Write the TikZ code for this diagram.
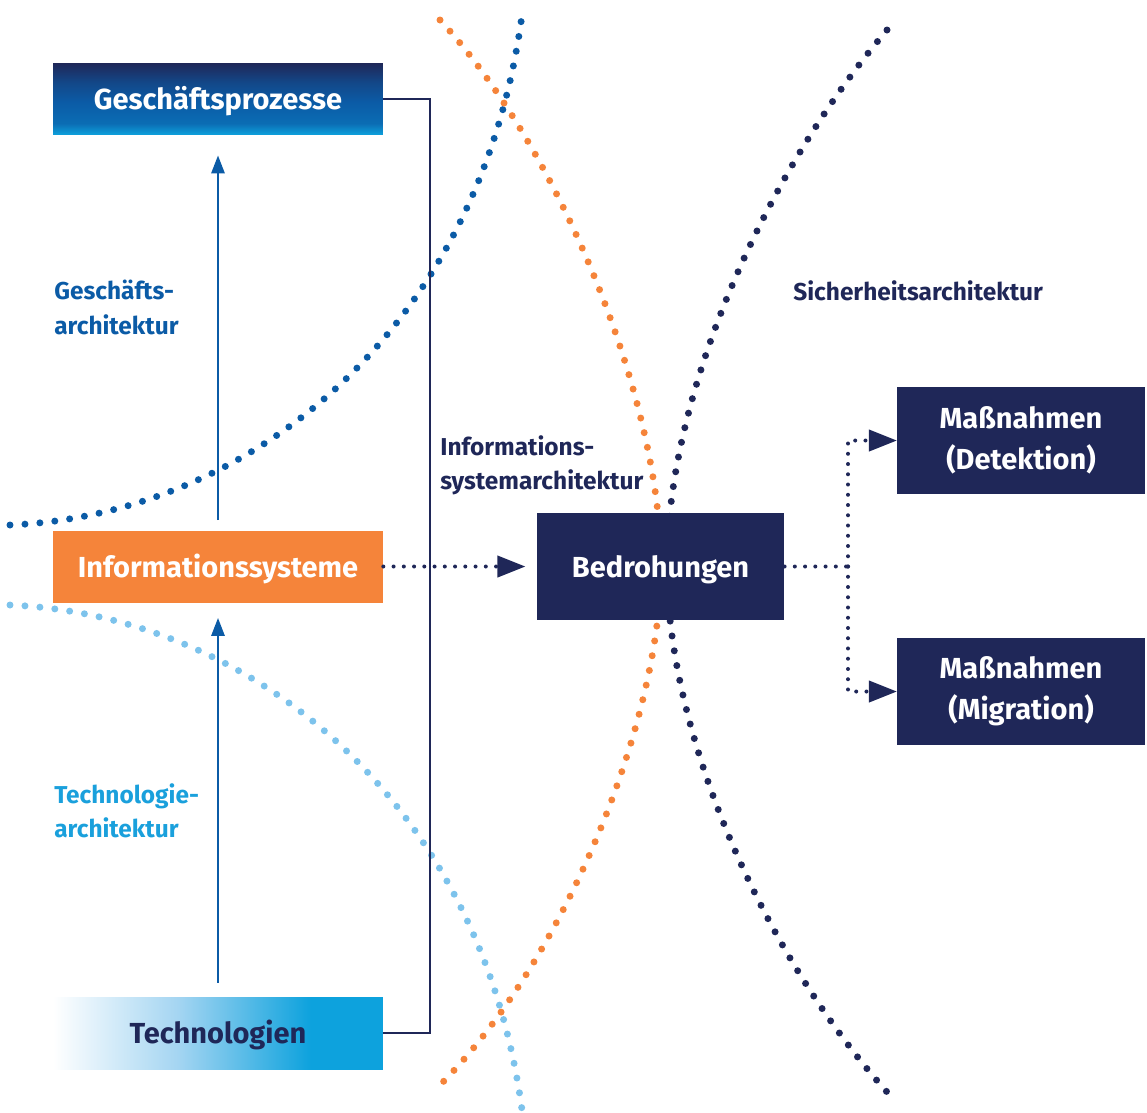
\documentclass[tikz,border=0pt]{standalone}
\usepackage{fontspec}
\setmainfont{Fira Sans}
\usepackage{tikz}
\usetikzlibrary{arrows.meta,positioning}

\definecolor{navy}{HTML}{1F2758}
\definecolor{gpblue}{HTML}{0B5BA6}
\definecolor{techcyan}{HTML}{0DA2DD}
\definecolor{isorange}{HTML}{F5843A}
\definecolor{lightdot}{HTML}{7DC3EC}
\definecolor{techlabel}{HTML}{1AA0DC}
\colorlet{gpmid}{gpblue!75!techcyan}
\colorlet{gpdark}{gpblue!60!navy}
\colorlet{techpale}{lightdot!70!white}

\pgfdeclareverticalshading{gpshade}{100bp}{color(0bp)=(techcyan); color(25bp)=(techcyan); color(33bp)=(gpmid); color(48bp)=(gpblue); color(62bp)=(gpdark); color(75bp)=(navy); color(100bp)=(navy)}
\pgfdeclarehorizontalshading{techshade}{100bp}{color(0bp)=(white); color(25bp)=(white); color(44bp)=(techpale); color(64bp)=(techcyan); color(100bp)=(techcyan)}

\newcommand\boxtxt{\fontsize{16.5}{23.5}\selectfont\bfseries}
\newcommand\lbltxt{\fontsize{13.9}{19.8}\selectfont\bfseries}

\begin{document}
\begin{tikzpicture}[x=0.02cm,y=-0.02cm,>={Triangle[length=0.56cm,width=0.42cm]},
  box/.style={minimum width=6.6cm,minimum height=1.44cm,inner sep=0pt,font=\boxtxt,text=white,oneline},
  oneline/.style={text height=12.5pt,text depth=0pt},
  threat/.style={fill=navy,minimum width=4.95cm,minimum height=2.14cm,inner sep=0pt,font=\boxtxt,text=white,align=center},
  lbl/.style={anchor=north west,inner sep=0pt,align=left,font=\lbltxt},
  dots/.style={line width=0.14cm,line cap=round,dash pattern=on 0pt off 0.3cm},
  flow/.style={navy,line width=0.08cm,line cap=round,dash pattern=on 0pt off 0.205cm},
  lift/.style={gpblue,line width=0.055cm,-{Triangle[length=0.36cm,width=0.26cm]}}]

  \useasboundingbox (0,0) rectangle (1147,1113);

  % architecture layers
  \draw[dots,gpblue] (10,525) .. controls (250,515) and (480,330) .. (522,15);
  \draw[dots,lightdot] (10,605) .. controls (250,615) and (480,800) .. (522,1110);
  \draw[dots,isorange] (440,20) .. controls (560,150) and (661,400) .. (661,566)
    .. controls (661,720) and (565,960) .. (440,1085);
  \draw[dots,navy] (887,30) .. controls (760,180) and (667,400) .. (667,566)
    .. controls (667,730) and (760,950) .. (887,1092);

  \node[box,shade,shading=gpshade] (gp) at (218,99) {Geschäftsprozesse};
  \node[box,fill=isorange] (is) at (218,566.5) {Informationssysteme};
  \node[box,shade,shading=techshade,text=navy] (tech) at (218,1033) {Technologien};
  \node[threat,oneline] (bd) at (660.5,566.5) {Bedrohungen};
  \node[threat] (md) at (1021,440.5) {Maßnahmen\\(Detektion)};
  \node[threat] (mm) at (1021,691.5) {Maßnahmen\\(Migration)};

  \coordinate (bk) at (430,99);
  \coordinate (fork) at (848,566.5);

  \draw[navy,line width=0.04cm] (gp) -- (bk) |- (tech);

  \draw[lift,shorten <=0.28cm,shorten >=0.3cm] (tech) -- (is);
  \draw[lift,shorten <=0.2cm,shorten >=0.4cm] (is) -- (gp);

  \draw[flow,->,shorten >=0.22cm] (is) -- (bd);
  \draw[flow] (bd) -- (fork);
  \draw[flow,->] (fork) |- (md);
  \draw[flow,->] (fork) |- (mm);

  \node[lbl,text=gpblue] (galbl) at (54,280) {Geschäfts-\\architektur};
  \node[lbl,text=techlabel] (talbl) at (54,783) {Technologie-\\architektur};
  \node[lbl,text=navy] (ialbl) at (440,435) {Informations-\\systemarchitektur};
  \node[lbl,text=navy] (salbl) at (793,280) {Sicherheitsarchitektur};
\end{tikzpicture}
\end{document}
